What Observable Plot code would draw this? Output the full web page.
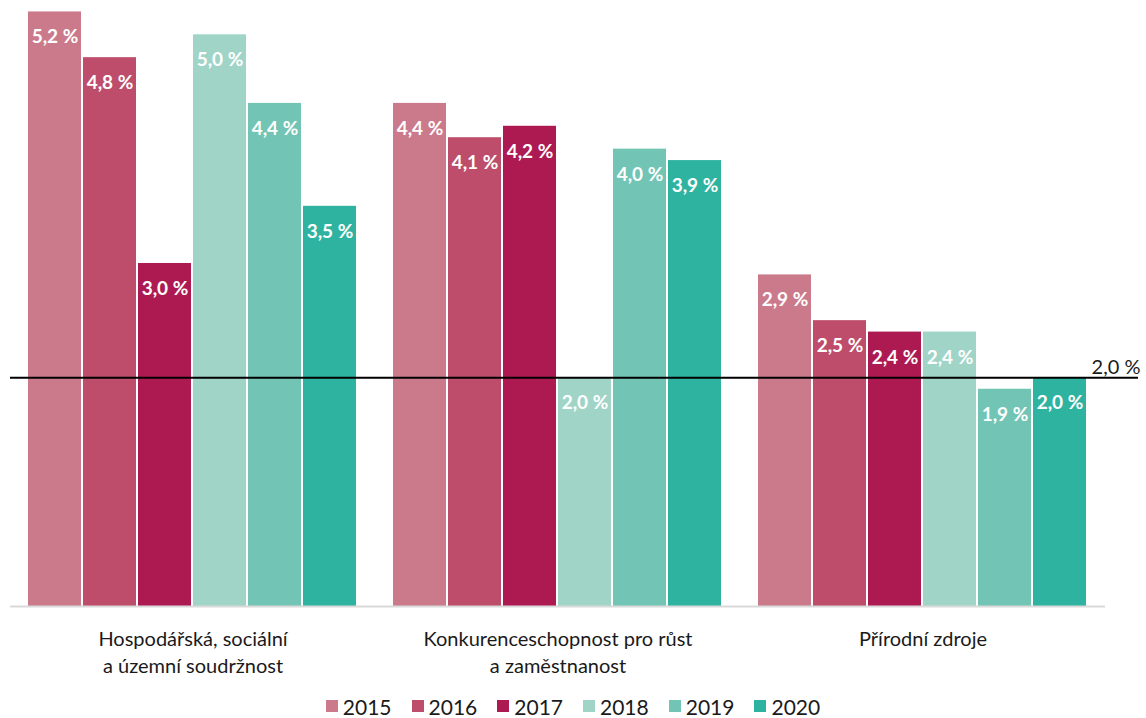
<!DOCTYPE html>
<html>
<head>
<meta charset="utf-8">
<script src="https://cdn.jsdelivr.net/npm/d3@7"></script>
<script src="https://cdn.jsdelivr.net/npm/@observablehq/plot@0.6"></script>
<style>
  html, body { margin: 0; padding: 0; background: #fff; }
  body { width: 1146px; height: 718px; overflow: hidden; font-family: Lato, "Open Sans", sans-serif; }
  #chart svg { display: block; }
  #legend { display: flex; justify-content: center; align-items: center; gap: 20px; height: 24px; margin-top: 9px; font-size: 21px; line-height: 1; color: #1a1a1a; }
  #legend .item { display: flex; align-items: center; gap: 5px; }
  #legend .sw { width: 12px; height: 12px; display: inline-block; }
</style>
</head>
<body>
<div id="chart"></div>
<div id="legend"></div>
<script>
const categories = ["Hospodářská, sociální a územní soudržnost", "Konkurenceschopnost pro růst a zaměstnanost", "Přírodní zdroje"];
const categoryLabels = ["Hospodářská, sociální\na územní soudržnost", "Konkurenceschopnost pro růst\na zaměstnanost", "Přírodní zdroje"];
const years = ["2015", "2016", "2017", "2018", "2019", "2020"];
const values2015 = [5.2, 4.4, 2.9];
const values2016 = [4.8, 4.1, 2.5];
const values2017 = [3.0, 4.2, 2.4];
const values2018 = [5.0, 2.0, 2.4];
const values2019 = [4.4, 4.0, 1.9];
const values2020 = [3.5, 3.9, 2.0];
const colors = ["#CB7A8C", "#BD4D6A", "#AD1A52", "#A0D4C7", "#72C4B4", "#2FB3A1"];
const target = 2.0;
const targetLabel = "2,0 %";

const series = [values2015, values2016, values2017, values2018, values2019, values2020];
const data = [];
categories.forEach((c, ci) => years.forEach((y, yi) => data.push({cat: c, year: y, value: series[yi][ci]})));
const fmt = v => v.toFixed(1).replace(".", ",") + " %";
const labelOf = new Map(categories.map((c, i) => [c, categoryLabels[i]]));
const lastCat = categories[categories.length - 1];
const ruleInner = categories.slice(0, -1).map(c => ({cat: c, value: target}));
const ruleLast = [{cat: lastCat, value: target}];

const chart = Plot.plot({
  width: 1146,
  height: 685,
  marginLeft: 10,
  marginRight: 41,
  marginTop: 0,
  marginBottom: 79,
  style: {fontFamily: "Lato, 'Open Sans', sans-serif"},
  fx: {domain: categories, padding: 0, label: null, axis: null},
  x: {domain: years, paddingInner: 0.035, paddingOuter: 0.318, axis: null},
  y: {domain: [0, 5.3], axis: null},
  color: {domain: years, range: colors},
  marks: [
    Plot.barY(data, {fx: "cat", x: "year", y: "value", fill: "year"}),
    Plot.ruleY([0], {stroke: "#d9d9d9", strokeWidth: 2}),
    Plot.text(data, {fx: "cat", x: "year", y: "value", text: d => fmt(d.value), fill: "white", fontWeight: "bold", fontSize: 19, lineAnchor: "top", dy: 18}),
    Plot.ruleY(ruleInner, {fx: "cat", y: "value", stroke: "black", strokeWidth: 2}),
    Plot.ruleY(ruleLast, {fx: "cat", y: "value", stroke: "black", strokeWidth: 2, insetRight: -33}),
    Plot.text(ruleLast, {fx: "cat", y: "value", text: () => targetLabel, frameAnchor: "right", textAnchor: "end", lineAnchor: "bottom", dx: 35, dy: -4, fontSize: 20, fill: "#1a1a1a"}),
    Plot.axisFx({anchor: "bottom", tickSize: 0, tickPadding: 20, fontSize: 20, lineHeight: 1.35, tickFormat: d => labelOf.get(d), fill: "#1a1a1a", label: null})
  ]
});
document.getElementById("chart").appendChild(chart);

const legend = document.getElementById("legend");
years.forEach((y, i) => {
  const item = document.createElement("div");
  item.className = "item";
  const sw = document.createElement("span");
  sw.className = "sw";
  sw.style.background = colors[i];
  const t = document.createElement("span");
  t.textContent = y;
  item.appendChild(sw);
  item.appendChild(t);
  legend.appendChild(item);
});
</script>
</body>
</html>
